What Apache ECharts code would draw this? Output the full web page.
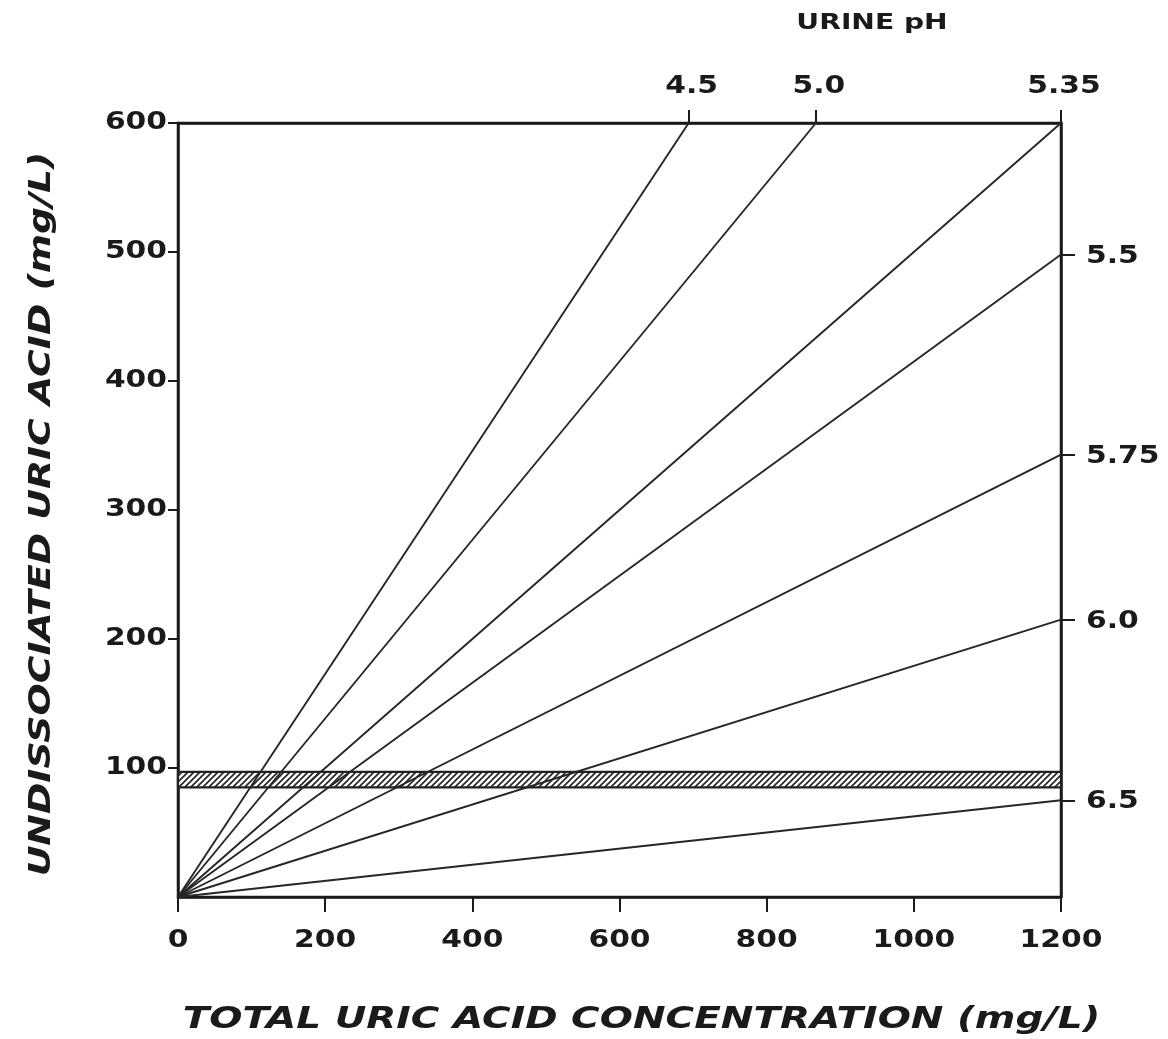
<!DOCTYPE html>
<html><head><meta charset="utf-8">
<script src="https://cdn.jsdelivr.net/npm/echarts@6/dist/echarts.min.js"></script>
<style>html,body{margin:0;padding:0;background:#fff}#c{width:1168px;height:1039px}</style>
</head><body><div id="c"></div>
<script>
// pH lines: each runs from the origin to its end point
const phLabels = ['4.5', '5.0', '5.35', '5.5', '5.75', '6.0', '6.5'];
const lineEndX = [694, 867, 1200, 1200, 1200, 1200, 1200];
const lineEndY = [600, 600, 600, 498, 343, 215, 75];
// hatched band
const bandLow = 85;
const bandHigh = 97;
const xTicks = [0, 200, 400, 600, 800, 1000, 1200];
const yTicks = [100, 200, 300, 400, 500, 600];
const xTitle = 'TOTAL URIC ACID CONCENTRATION (mg/L)';
const yTitle = 'UNDISSOCIATED URIC ACID (mg/L)';
const topTitle = 'URINE pH';

const FONT = '"DejaVu Sans", Arial, sans-serif';
const INK = '#1a1a1a';
const WIDE = 1.24;

// hatch pattern
const pc = document.createElement('canvas');
pc.width = 6; pc.height = 6;
const g = pc.getContext('2d');
g.fillStyle = '#fff'; g.fillRect(0, 0, 6, 6);
g.strokeStyle = '#222'; g.lineWidth = 1.6;
g.beginPath(); g.moveTo(-1, 7); g.lineTo(7, -1); g.stroke();
g.beginPath(); g.moveTo(-1, 1); g.lineTo(1, -1); g.stroke();
g.beginPath(); g.moveTo(5, 7); g.lineTo(7, 5); g.stroke();

const topVals = [], topLab = [], rightVals = [], rightLab = [];
lineEndX.forEach((x, i) => {
  if (lineEndY[i] === 600) { topVals.push(x); topLab.push(phLabels[i]); }
  else { rightVals.push(lineEndY[i]); rightLab.push(phLabels[i]); }
});

const series = phLabels.map((ph, i) => ({
  type: 'line', name: 'pH ' + ph, symbol: 'none', silent: true,
  lineStyle: { color: '#262626', width: 1.9 },
  data: [[0, 0], [lineEndX[i], lineEndY[i]]],
  z: 3
}));
series.push({
  type: 'line', data: [], symbol: 'none',
  markArea: {
    silent: true,
    itemStyle: { color: { image: pc, repeat: 'repeat' }, borderColor: '#222', borderWidth: 2.2 },
    data: [[{ coord: [0, bandLow] }, { coord: [1200, bandHigh] }]]
  },
  z: 2
});

const axisCommon = { axisLine: { show: true, onZero: false, lineStyle: { color: INK, width: 2.5 } }, splitLine: { show: false } };

const chart = echarts.init(document.getElementById('c'));
chart.setOption({
  animation: false,
  backgroundColor: '#fff',
  grid: { left: 178, right: 107, top: 123, bottom: 142, outerBoundsMode: 'none', containLabel: false,
          show: true, borderColor: INK, borderWidth: 2.5, backgroundColor: 'transparent' },
  xAxis: [Object.assign({
    type: 'value', min: 0, max: 1200, interval: 200,
    axisTick: { show: true, length: 15, lineStyle: { color: INK, width: 2 }, customValues: xTicks },
    axisLabel: { show: false }
  }, axisCommon), Object.assign({
    type: 'value', min: 0, max: 1200, position: 'top',
    axisTick: { show: true, length: 13, lineStyle: { color: INK, width: 2 }, customValues: topVals },
    axisLabel: { show: false }
  }, axisCommon)],
  yAxis: [Object.assign({
    type: 'value', min: 0, max: 600, interval: 100,
    axisTick: { show: true, length: 10, lineStyle: { color: INK, width: 2 }, customValues: yTicks },
    axisLabel: { show: false }
  }, axisCommon), Object.assign({
    type: 'value', min: 0, max: 600, position: 'right',
    axisTick: { show: true, length: 14, lineStyle: { color: INK, width: 2 }, customValues: rightVals },
    axisLabel: { show: false }
  }, axisCommon)],
  series: series
});

// Tick labels and titles placed through the chart's own scales (wide lettering of the original)
function txt(x, y, text, size, align, vAlign, opts) {
  return Object.assign({
    type: 'text', x: x, y: y, scaleX: WIDE, silent: true,
    style: { text: text, x: 0, y: 0, align: align, verticalAlign: vAlign,
      font: 'bold ' + size + 'px ' + FONT, fill: INK }
  }, opts || {});
}
const gfx = [];
const plotBottom = chart.convertToPixel({ yAxisIndex: 0 }, 0);
const plotTop = chart.convertToPixel({ yAxisIndex: 0 }, 600);
const plotLeft = chart.convertToPixel({ xAxisIndex: 0 }, 0);
const plotRight = chart.convertToPixel({ xAxisIndex: 0 }, 1200);
xTicks.forEach(v => gfx.push(txt(chart.convertToPixel({ xAxisIndex: 0 }, v), plotBottom + 44, String(v), 24, 'center', 'middle')));
yTicks.forEach(v => gfx.push(txt(plotLeft - 11, chart.convertToPixel({ yAxisIndex: 0 }, v), String(v), 24, 'right', 'middle')));
topVals.forEach((v, i) => gfx.push(txt(chart.convertToPixel({ xAxisIndex: 1 }, v) + 3, plotTop - 36, topLab[i], 24, 'center', 'middle')));
rightVals.forEach((v, i) => gfx.push(txt(plotRight + 25, chart.convertToPixel({ yAxisIndex: 1 }, v) + 2, rightLab[i], 24, 'left', 'middle')));
gfx.push(txt(872, 24, topTitle, 21, 'center', 'middle', { scaleX: 1.34 }));
gfx.push({
  type: 'text', x: (plotLeft + plotRight) / 2 + 22, y: 1020, scaleX: 1.3, silent: true,
  style: { text: xTitle, x: 0, y: 0, align: 'center', verticalAlign: 'middle',
    font: 'italic bold 30px ' + FONT, fill: INK }
});
gfx.push({
  type: 'text', x: 42, y: 514, rotation: Math.PI / 2, scaleX: 1.26, silent: true,
  style: { text: yTitle, x: 0, y: 0, align: 'center', verticalAlign: 'middle',
    font: 'italic bold 30px ' + FONT, fill: INK }
});
chart.setOption({ graphic: gfx });
</script></body></html>
